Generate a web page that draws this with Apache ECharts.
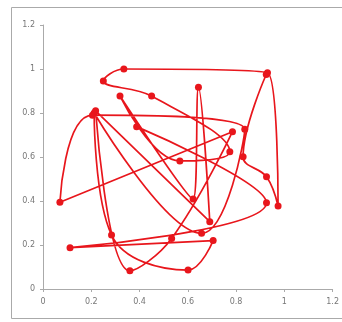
<!DOCTYPE html>
<html>
<head>
<meta charset="utf-8">
<script src="https://cdn.jsdelivr.net/npm/echarts@6/dist/echarts.min.js"></script>
<style>html,body{margin:0;padding:0;background:#fff}#c{width:342px;height:322px}</style>
</head>
<body>
<div id="c"></div>
<script>
// point sequence (x values, y values) in drawing order
var xValues = [0.388,0.926,0.112,0.705,0.601,0.284,0.212,0.657,0.836,0.205,0.07,0.785,0.533,0.36,0.218,0.691,0.644,0.622,0.319,0.567,0.774,0.45,0.25,0.335,0.93,0.974,0.926,0.829,0.925];
var yValues = [0.738,0.392,0.188,0.22,0.086,0.245,0.8,0.253,0.726,0.79,0.394,0.715,0.23,0.083,0.81,0.306,0.917,0.409,0.877,0.582,0.624,0.877,0.945,1.0,0.983,0.377,0.51,0.601,0.975];
var tickLabels = ['0','0.2','0.4','0.6','0.8','1','1.2'];

var data = xValues.map(function(x,i){return [x, yValues[i]];});
var chart = echarts.init(document.getElementById('c'));
var axisCommon = {
  type:'value', min:0, max:1.2, interval:0.2,
  axisLine:{show:true, lineStyle:{color:'#aaa', width:1}},
  axisTick:{show:true, length:3, lineStyle:{color:'#aaa'}},
  splitLine:{show:false},
  axisLabel:{color:'#777', fontSize:8, fontFamily:'DejaVu Sans',
    formatter:function(v){ return tickLabels[Math.round(v/0.2)]; }}
};
chart.setOption({
  animation:false,
  grid:{left:43, right:9, top:25, bottom:33},
  graphic:[{type:'rect', shape:{x:11.5, y:7.5, width:340, height:311}, style:{fill:'none', stroke:'#aaa', lineWidth:1}}],
  xAxis:Object.assign({}, axisCommon, {axisLabel:Object.assign({}, axisCommon.axisLabel, {margin:9})}),
  yAxis:Object.assign({}, axisCommon, {axisLabel:Object.assign({}, axisCommon.axisLabel, {margin:8})}),
  series:[{
    type:'line', data:data, smooth:0.4,
    symbol:'circle', symbolSize:7,
    lineStyle:{color:'#e8161c', width:1.7},
    itemStyle:{color:'#e8161c'}
  }]
});
</script>
</body>
</html>
